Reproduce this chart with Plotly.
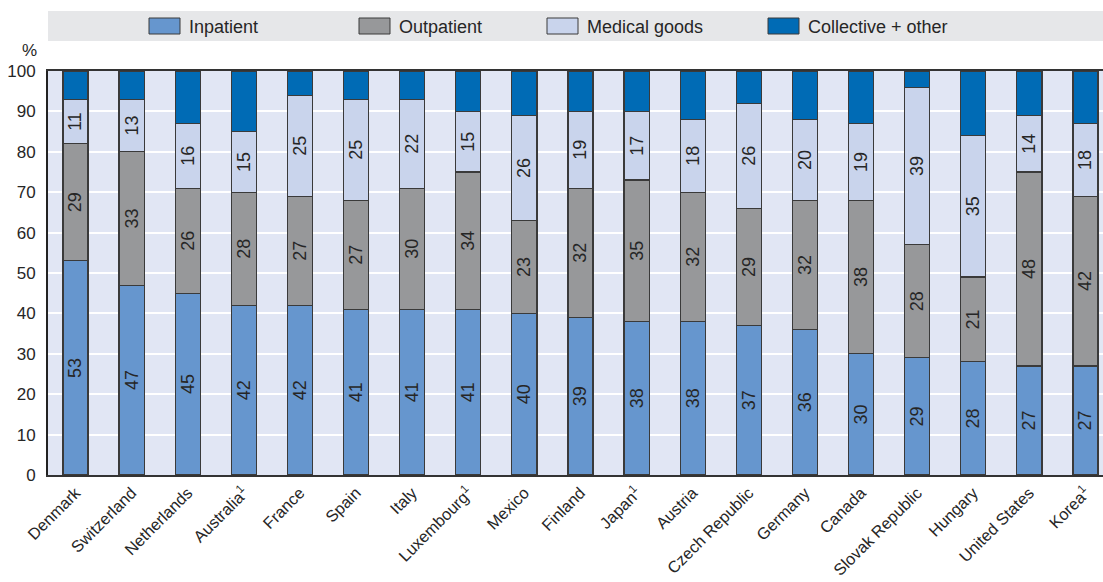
import plotly.graph_objects as go

# Share of current health expenditure by function (%)
countries = ["Denmark", "Switzerland", "Netherlands", "Australia<sup>1</sup>", "France",
             "Spain", "Italy", "Luxembourg<sup>1</sup>", "Mexico", "Finland",
             "Japan<sup>1</sup>", "Austria", "Czech Republic", "Germany", "Canada",
             "Slovak Republic", "Hungary", "United States", "Korea<sup>1</sup>"]
inpatient = [53, 47, 45, 42, 42, 41, 41, 41, 40, 39, 38, 38, 37, 36, 30, 29, 28, 27, 27]
outpatient = [29, 33, 26, 28, 27, 27, 30, 34, 23, 32, 35, 32, 29, 32, 38, 28, 21, 48, 42]
medical_goods = [11, 13, 16, 15, 25, 25, 22, 15, 26, 19, 17, 18, 26, 20, 19, 39, 35, 14, 18]
collective_other = [7, 7, 13, 15, 6, 7, 7, 10, 11, 10, 10, 12, 8, 12, 13, 4, 16, 11, 13]

series_names = ["Inpatient", "Outpatient", "Medical goods", "Collective + other"]
series_values = [inpatient, outpatient, medical_goods, collective_other]
series_colors = ["#6696ce", "#97989a", "#c9d4ec", "#006bb5"]
series_labelled = [True, True, True, False]

W, H = 1103, 582
M_L, M_R, M_T, M_B = 48, 0, 71, 107
FONT = "Liberation Sans, Arial, sans-serif"
TXT = "#262626"
EDGE = "#3a3a3a"


def px_x(x):
    return (x - M_L) / (W - M_L - M_R)


def px_y(y):
    return (H - M_B - y) / (H - M_T - M_B)


fig = go.Figure()
for name, vals, col, lab in zip(series_names, series_values, series_colors, series_labelled):
    fig.add_trace(go.Bar(
        x=countries, y=vals, name=name,
        marker=dict(color=col, line=dict(color=EDGE, width=1.2)),
        width=0.446,
        text=[str(v) for v in vals] if lab else None,
        textposition="inside" if lab else "none",
        insidetextanchor="middle",
        textangle=-90,
        constraintext="none",
        textfont=dict(family=FONT, size=18, color=TXT),
        showlegend=False,
    ))

# Legend band across the top
shapes = [dict(type="rect", xref="paper", yref="paper",
               x0=px_x(48), x1=px_x(1103), y0=px_y(41), y1=px_y(11),
               fillcolor="#e6e7e9", line=dict(width=0), layer="below")]
annotations = []
swatch_left = [149, 359, 547, 768]
for name, col, sx in zip(series_names, series_colors, swatch_left):
    shapes.append(dict(type="rect", xref="paper", yref="paper",
                       x0=px_x(sx), x1=px_x(sx + 31), y0=px_y(34), y1=px_y(18),
                       fillcolor=col, line=dict(color=EDGE, width=1)))
    annotations.append(dict(text=name, xref="paper", yref="paper",
                            x=px_x(sx + 38), y=px_y(26.5), xanchor="left", yanchor="middle",
                            showarrow=False, font=dict(family=FONT, size=18, color=TXT)))

annotations.append(dict(text="%", xref="paper", yref="paper", x=px_x(29), y=px_y(51),
                        xanchor="center", yanchor="middle", showarrow=False,
                        font=dict(family=FONT, size=17, color=TXT)))

fig.update_layout(
    width=W, height=H,
    margin=dict(l=M_L, r=M_R, t=M_T, b=M_B, autoexpand=False),
    barmode="stack",
    paper_bgcolor="white",
    plot_bgcolor="#e1e6f4",
    font=dict(family=FONT, size=17, color=TXT),
    shapes=shapes,
    annotations=annotations,
    xaxis=dict(
        type="category", range=[-0.49, 18.312], automargin=False,
        tickangle=-45, tickfont=dict(family=FONT, size=16.3, color=TXT),
        showgrid=False, showline=True, linecolor="#333333", linewidth=2,
        mirror=True, ticks="", fixedrange=True,
    ),
    yaxis=dict(
        range=[0, 100], tickmode="linear", tick0=0, dtick=10, automargin=False,
        tickfont=dict(family=FONT, size=17, color=TXT),
        showgrid=True, gridcolor="white", gridwidth=1.5,
        showline=True, linecolor="#222222", linewidth=2,
        ticks="", ticklabelstandoff=7, zeroline=False,
    ),
)

fig.write_html("out.html")
